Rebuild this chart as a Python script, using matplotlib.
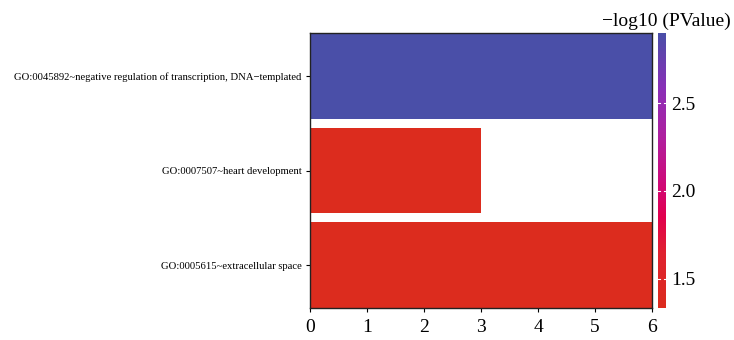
import numpy as np
import matplotlib
matplotlib.use("Agg")
import matplotlib.pyplot as plt
from matplotlib.colors import LinearSegmentedColormap, Normalize

plt.rcParams['font.family'] = ['Liberation Serif', 'DejaVu Serif']

terms = ["GO:0045892~negative regulation of transcription, DNA\u2212templated",
         "GO:0007507~heart development",
         "GO:0005615~extracellular space"]
counts = [6, 3, 6]
neglogp = [2.90, 1.33, 1.33]

# red -> crimson -> magenta -> purple -> blue (low to high)
cmap = LinearSegmentedColormap.from_list(
    "pv", [(0.00, "#dc2c1e"), (0.20, "#e02230"), (0.33, "#e2004e"),
           (0.45, "#d00a78"), (0.62, "#b0209f"), (0.80, "#8a30b8"),
           (1.00, "#4a4fa8")])
vmin, vmax = 1.335, 2.898
norm = Normalize(vmin=vmin, vmax=vmax)

fig = plt.figure(figsize=(7.34, 3.40), dpi=100)
ax = fig.add_axes([310/734, 1 - 308/340, (652-310)/734, (308-33)/340])
cax = fig.add_axes([658/734, 1 - 308/340, 8/734, (308-33)/340])

ypos = np.arange(len(terms))[::-1]
ax.barh(ypos, counts, height=0.91, color=cmap(norm(np.array(neglogp))))
ax.set_yticks(ypos)
ax.set_yticklabels(terms, fontsize=7.7)
ax.set_ylim(-0.455, len(terms) - 0.545)
ax.set_xlim(0, 6)
ax.set_xticks(range(0, 7))
ax.tick_params(axis='x', labelsize=14, length=3, width=0.8, pad=5)
ax.tick_params(axis='y', length=3, width=0.8, pad=3)
for sp in ax.spines.values():
    sp.set_linewidth(1.0)
    sp.set_color("#222222")

grad = np.linspace(vmin, vmax, 256).reshape(-1, 1)
cax.imshow(grad, aspect='auto', cmap=cmap, norm=norm, origin='lower',
           extent=[0, 1, vmin, vmax])
cax.set_xticks([])
cax.yaxis.tick_right()
cax.set_yticks([1.5, 2.0, 2.5])
cax.set_yticklabels(["1.5", "2.0", "2.5"])
cax.tick_params(axis='y', labelsize=14, length=0, pad=4)
for v in [1.5, 2.0, 2.5]:
    cax.plot([0, 0.2], [v, v], color="white", lw=0.8)
    cax.plot([0.8, 1], [v, v], color="white", lw=0.8)
cax.set_xlim(0, 1)
cax.set_ylim(vmin, vmax)
for sp in cax.spines.values():
    sp.set_visible(False)

fig.text(731/734, 1 - 21/340, "\u2212log10 (PValue)", fontsize=14,
         ha='right', va='center')

fig.savefig("out.png", dpi=100)
